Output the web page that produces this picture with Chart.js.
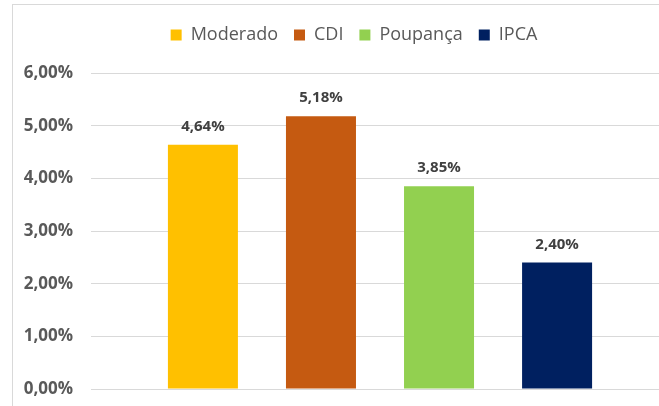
<!DOCTYPE html>
<html>
<head>
<meta charset="utf-8">
<script src="https://cdn.jsdelivr.net/npm/chart.js@4/dist/chart.umd.min.js"></script>
<style>
    html, body { margin: 0; padding: 0; background: #fff; overflow: hidden; }
    #frame {
        position: absolute; left: 12px; top: 4px;
        width: 684px; height: 402px;
        border-left: 1px solid #d9d9d9; border-top: 1px solid #d9d9d9;
    }
    #chart { display: block; }
</style>
</head>
<body>
<div id="frame"><canvas id="chart" width="684" height="402"></canvas></div>
<script>
const seriesNames = ['Moderado', 'CDI', 'Poupança', 'IPCA'];
const seriesValues = [4.64, 5.18, 3.85, 2.40];
const seriesColors = ['#ffc000', '#c55a11', '#92d050', '#002060'];
const yTicks = [0, 1, 2, 3, 4, 5, 6];

function pct(v) {
    return v.toFixed(2).replace('.', ',') + '%';
}

// rótulos acima das barras
const barLabels = {
    id: 'barLabels',
    afterDatasetsDraw(chart) {
        const ctx = chart.ctx;
        ctx.save();
        ctx.font = 'bold 15px "Open Sans"';
        ctx.fillStyle = '#404040';
        ctx.textAlign = 'center';
        ctx.textBaseline = 'middle';
        chart.data.datasets.forEach((ds, i) => {
            const bar = chart.getDatasetMeta(i).data[0];
            ctx.fillText(pct(ds.data[0]), bar.x, bar.y - 18);
        });
        ctx.restore();
    }
};

// a legenda fica centrada no quadro todo, não só na área do gráfico
const legendShift = {
    id: 'legendShift',
    afterLayout(chart) {
        const lg = chart.legend;
        lg.left += 13;
        lg.right += 13;
        lg.top -= 19;
        lg.bottom -= 19;
    }
};

const datasets = seriesNames.map((name, i) => ({
    label: name,
    data: [seriesValues[i]],
    backgroundColor: seriesColors[i],
    categoryPercentage: 0.817,
    barPercentage: 0.593
}));

new Chart(document.getElementById('chart'), {
    type: 'bar',
    data: { labels: [''], datasets },
    options: {
        responsive: false,
        animation: false,
        layout: { padding: { left: 0, right: 28, top: 24, bottom: 18 } },
        plugins: {
            tooltip: { enabled: false },
            legend: {
                position: 'top',
                labels: {
                    boxWidth: 11,
                    boxHeight: 11,
                    padding: 16,
                    color: '#595959',
                    font: { family: 'Open Sans', size: 18 }
                }
            }
        },
        scales: {
            x: { display: false },
            y: {
                min: 0,
                max: 6,
                afterFit(scale) {
                    scale.width = 78;
                    scale.paddingTop = 0;
                    scale.paddingBottom = 0;
                },
                afterBuildTicks(scale) { scale.ticks = yTicks.map(v => ({ value: v })); },
                border: { display: false },
                grid: { color: '#d9d9d9', lineWidth: 1, drawTicks: false },
                ticks: {
                    padding: 18,
                    color: '#595959',
                    font: { family: 'Open Sans', size: 17, weight: 'bold' },
                    callback: v => pct(v)
                }
            }
        }
    },
    plugins: [barLabels, legendShift]
});
</script>
</body>
</html>
